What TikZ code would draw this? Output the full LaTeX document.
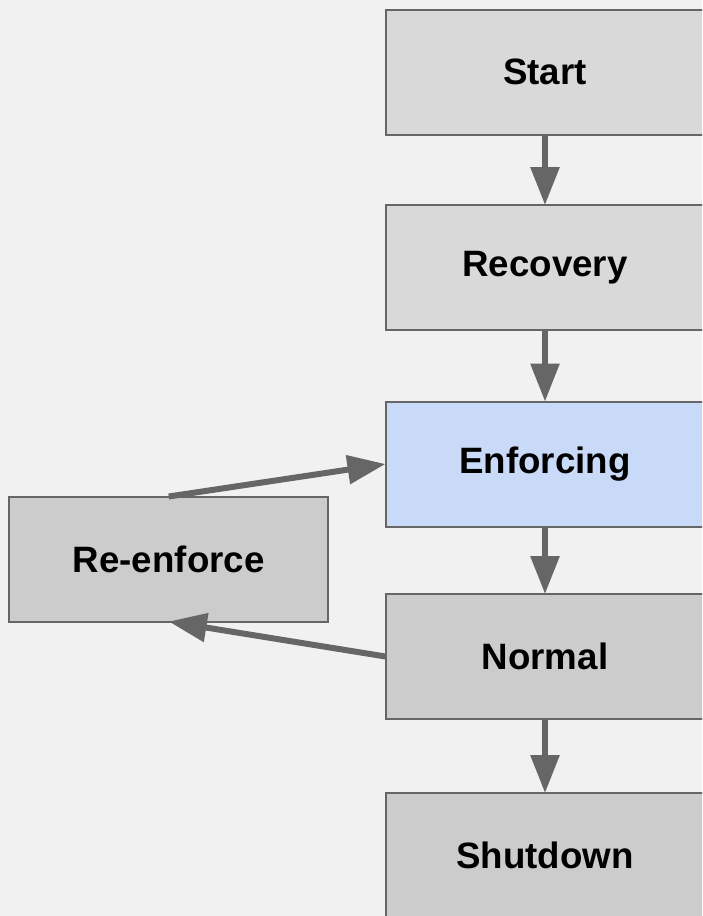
\documentclass[tikz,border=0pt]{standalone}
\usepackage{fontspec}
\setmainfont{Liberation Sans}
\usetikzlibrary{arrows.meta}
\definecolor{bgcol}{HTML}{F1F1F1}
\definecolor{boxlight}{HTML}{D9D9D9}
\definecolor{boxdark}{HTML}{CCCCCC}
\definecolor{boxblue}{HTML}{C9DAF8}
\definecolor{edgecol}{HTML}{666666}
\tikzset{
  statebox/.style={draw=edgecol,line width=2pt,minimum width=319pt,minimum height=125pt,
    inner sep=0pt,outer sep=0pt,font=\fontsize{36.7}{44}\selectfont\bfseries},
  flow/.style={draw=edgecol,line width=6pt,-{Triangle[length=38pt,width=28pt]}}
}
\begin{document}
\begin{tikzpicture}[x=1pt,y=-1pt]
        \clip (0,0) rectangle (702,916);
        \fill[bgcol] (0,0) rectangle (702,916);
        % main sequence of states
        \node[statebox,fill=boxlight] (start) at (545,72) {Start};
        \node[statebox,fill=boxlight] (recov) at (545,267.5) {Recovery};
        \node[statebox,fill=boxblue] (enf) at (545,464) {Enforcing};
        \node[statebox,fill=boxdark] (norm) at (545,656.5) {Normal};
        \node[statebox,fill=boxdark] (shut) at (545,855.5) {Shutdown};
        % side state
        \node[statebox,fill=boxdark] (reenf) at (168.7,559) {Re-enforce};
        % transitions
        \draw[flow] (start) -- (recov);
        \draw[flow] (recov) -- (enf);
        \draw[flow] (enf) -- (norm);
        \draw[flow] (norm) -- (shut);
        \draw[flow] (reenf.north) -- (enf.west);
        \draw[flow] (norm.west) -- (reenf.south);
    \end{tikzpicture}
\end{document}
